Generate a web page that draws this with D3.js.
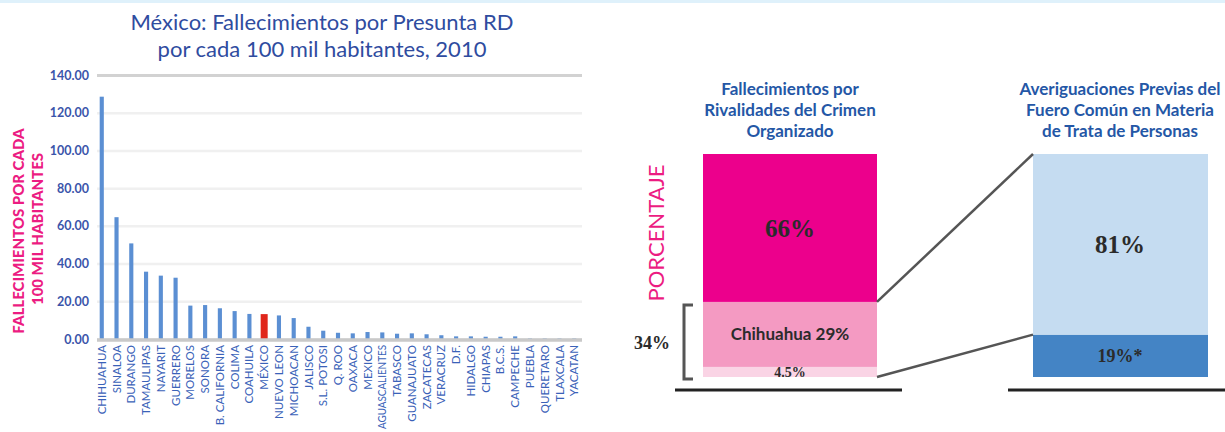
<!DOCTYPE html>
<html><head><meta charset="utf-8">
<script src="https://cdn.jsdelivr.net/npm/d3@7"></script>
<style>
html,body{margin:0;padding:0;background:#fff;}
svg{display:block;}
</style></head>
<body>
<svg id="c" width="1225" height="432"></svg>
<script>
// ---- Data ----
const states = ["CHIHUAHUA","SINALOA","DURANGO","TAMAULIPAS","NAYARIT","GUERRERO","MORELOS","SONORA","B. CALIFORNIA","COLIMA","COAHUILA","MÉXICO","NUEVO LEON","MICHOACAN","JALISCO","S.L. POTOSI","Q. ROO","OAXACA","MEXICO","AGUASCALIENTES","TABASCO","GUANAJUATO","ZACATECAS","VERACRUZ","D.F.","HIDALGO","CHIAPAS","B.C.S.","CAMPECHE","PUEBLA","QUERETARO","TLAXCALA","YACATAN"];
const rates = [128.5,64.6,50.7,35.7,33.6,32.5,17.7,18.0,16.3,14.8,13.3,13.2,12.5,11.1,6.5,4.4,3.3,3.0,3.7,3.5,2.8,3.0,2.5,2.0,1.4,1.4,1.2,1.2,1.4,0.3,0.3,0.3,0.3];
const yTicks = [0,20,40,60,80,100,120,140];
const highlight = "MÉXICO";

const crimeLabels = ["4.5%","Chihuahua 29%","66%"];
const crimeValues = [4.5,29,66];
const trataLabels = ["19%*","81%"];
const trataValues = [19,81];

const svg = d3.select("#c");
// top strip
svg.append("rect").attr("x",0).attr("y",0).attr("width",1225).attr("height",3).attr("fill","#dff1fb");

// ---- Left chart ----
const blue = "#2f4c9f";
svg.append("text").attr("x",322).attr("y",30).attr("text-anchor","middle")
  .attr("font-family","Lato").attr("font-size",22).attr("fill",blue)
  .text("México: Fallecimientos por Presunta RD");
svg.append("text").attr("x",322).attr("y",57).attr("text-anchor","middle")
  .attr("font-family","Lato").attr("font-size",22).attr("fill",blue)
  .text("por cada 100 mil habitantes, 2010");

const x = d3.scaleBand().domain(states).range([96,580]).paddingInner(0.72).paddingOuter(0.25);
const y = d3.scaleLinear().domain([0,140]).range([339,75]);

const grid = svg.append("g").attr("transform","translate(97,0)")
  .call(d3.axisLeft(y).tickValues(yTicks).tickSize(-485).tickFormat(""));
grid.select(".domain").remove();
grid.selectAll(".tick line").attr("stroke",d=> d===140 ? "#d2d2d2" : "#f0f0f0")
  .attr("stroke-width",d=> d===140 ? 3 : 2.5);

const yAx = svg.append("g").attr("transform","translate(89,0)")
  .call(d3.axisLeft(y).tickValues(yTicks).tickSize(0).tickPadding(0).tickFormat(d3.format(".2f")));
yAx.select(".domain").remove();
yAx.selectAll("text").attr("font-family","Lato").attr("font-weight","bold").attr("font-size",12.5).attr("fill","#3b55aa");

svg.append("g").selectAll("rect").data(states).join("rect")
  .attr("x",d=> d===highlight ? x(d)+x.bandwidth()/2-3.5 : x(d))
  .attr("width",d=> d===highlight ? 7 : x.bandwidth())
  .attr("y",(d,i)=> y(rates[i]))
  .attr("height",(d,i)=> y(0)-y(rates[i]))
  .attr("fill",d=> d===highlight ? "#e0261b" : "#5b8fd3");

// zero line
svg.append("line").attr("x1",97).attr("x2",582).attr("y1",y(0)+1).attr("y2",y(0)+1)
  .attr("stroke","#c9c9c9").attr("stroke-width",3.5);

const labelTop = 345, maxLen = 432 - labelTop - 3;
svg.append("g").selectAll("text").data(states).join("text")
  .attr("transform",d=>`translate(${x(d)+x.bandwidth()/2},${labelTop}) rotate(-90)`)
  .attr("text-anchor","end").attr("dy","0.35em")
  .attr("font-family","Lato").attr("font-size",11.5).attr("fill","#3a62b8")
  .text(d=>d)
  .each(function(){
    if (this.getComputedTextLength() > maxLen) {
      d3.select(this).attr("textLength",maxLen).attr("lengthAdjust","spacingAndGlyphs");
    }
  });

// y title
const mag = "#ec1c82";
svg.append("text").attr("transform","translate(19,231) rotate(-90)").attr("text-anchor","middle").attr("dy","0.35em")
  .attr("font-family","Lato").attr("font-weight","900").attr("font-size",15).attr("fill",mag)
  .text("FALLECIMIENTOS POR CADA");
svg.append("text").attr("transform","translate(38,229) rotate(-90)").attr("text-anchor","middle").attr("dy","0.35em")
  .attr("font-family","Lato").attr("font-weight","900").attr("font-size",15).attr("fill",mag)
  .text("100 MIL HABITANTES");

// ---- Right panel ----
const titleBlue = "#2457a6";
function title(lines, cx){
  lines.forEach((t,i)=>{
    svg.append("text").attr("x",cx).attr("y",95+i*21).attr("text-anchor","middle")
      .attr("font-family","Lato").attr("font-weight","bold").attr("font-size",17).attr("fill",titleBlue).text(t);
  });
}
title(["Fallecimientos por","Rivalidades del Crimen","Organizado"],790);
title(["Averiguaciones Previas del","Fuero Común en Materia","de Trata de Personas"],1120);

const yc = d3.scaleLinear().domain([0,d3.sum(crimeValues)]).range([377,154]);
const yt = d3.scaleLinear().domain([0,d3.sum(trataValues)]).range([377,154]);
const crimeColors = ["#fad4e5","#f49ac2","#ec008c"];
const trataColors = ["#4484c5","#c5dcf1"];

function stack(vals){ let acc=0; return vals.map(v=>{const s=acc; acc+=v; return [s,acc];}); }
const cs = stack(crimeValues), ts = stack(trataValues);

svg.append("g").selectAll("rect").data(cs).join("rect")
  .attr("x",703).attr("width",174)
  .attr("y",d=>yc(d[1])).attr("height",d=>yc(d[0])-yc(d[1]))
  .attr("fill",(d,i)=>crimeColors[i]);
svg.append("g").selectAll("rect").data(ts).join("rect")
  .attr("x",1033).attr("width",175)
  .attr("y",d=>yt(d[1])).attr("height",d=>yt(d[0])-yt(d[1]))
  .attr("fill",(d,i)=>trataColors[i]);

const dark = "#2b2b2b";
svg.append("g").selectAll("text").data(cs).join("text")
  .attr("x",790).attr("y",d=>(yc(d[0])+yc(d[1]))/2).attr("dy","0.35em").attr("text-anchor","middle")
  .attr("font-family",(d,i)=> i===1 ? "Lato" : "Liberation Serif")
  .attr("font-weight","bold").attr("fill",dark)
  .attr("font-size",(d,i)=> i===2 ? 25 : (i===1 ? 17 : 14))
  .text((d,i)=>crimeLabels[i]);
svg.append("g").selectAll("text").data(ts).join("text")
  .attr("x",1120).attr("y",d=>(yt(d[0])+yt(d[1]))/2).attr("dy","0.35em").attr("text-anchor","middle")
  .attr("font-family","Liberation Serif").attr("font-weight","bold").attr("fill",dark)
  .attr("font-size",(d,i)=> i===1 ? 25 : 18)
  .text((d,i)=>trataLabels[i]);

// connectors
const gray = "#555";
svg.append("line").attr("x1",877).attr("y1",yc(cs[1][1])).attr("x2",1033).attr("y2",yt(ts[1][1]))
  .attr("stroke",gray).attr("stroke-width",2.5);
svg.append("line").attr("x1",877).attr("y1",yc(cs[0][0])).attr("x2",1033).attr("y2",yt(ts[0][1]))
  .attr("stroke",gray).attr("stroke-width",2.5);

// bracket
svg.append("path").attr("d",`M693,${yc(cs[1][1])+3}H684V${yc(0)+2}H693`)
  .attr("fill","none").attr("stroke",gray).attr("stroke-width",3);
svg.append("text").attr("x",652).attr("y",343).attr("dy","0.35em").attr("text-anchor","middle")
  .attr("font-family","Liberation Serif").attr("font-weight","bold").attr("font-size",18).attr("fill",dark).text("34%");

// baselines
svg.append("line").attr("x1",675).attr("x2",902).attr("y1",390).attr("y2",390).attr("stroke","#222").attr("stroke-width",3);
svg.append("line").attr("x1",1008).attr("x2",1225).attr("y1",390).attr("y2",390).attr("stroke","#222").attr("stroke-width",3);

svg.append("text").attr("transform","translate(656,233) rotate(-90)").attr("text-anchor","middle").attr("dy","0.35em")
  .attr("font-family","Lato").attr("font-size",22).attr("fill",mag).text("PORCENTAJE");
</script>
</body></html>
